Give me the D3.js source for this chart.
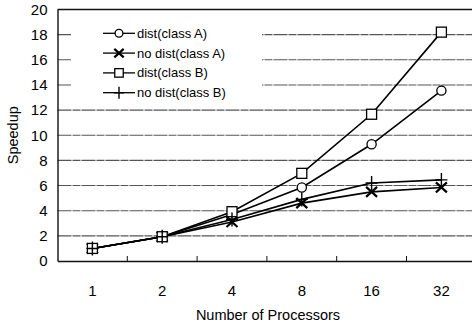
<!DOCTYPE html>
<html><head><meta charset="utf-8">
<script src="https://cdn.jsdelivr.net/npm/d3@7"></script>
<style>body{margin:0;background:#fff;}svg{display:block;font-family:"Liberation Sans",Arial,sans-serif;}</style>
</head><body>
<svg id="c" width="472" height="323"></svg>
<script>
const processors = ["1","2","4","8","16","32"];
const yTicks = [0,2,4,6,8,10,12,14,16,18,20];
const distA   = [1, 1.93, 3.7, 5.85, 9.28, 13.55];
const noDistA = [1, 1.93, 3.1, 4.6, 5.5, 5.85];
const distB   = [1, 1.93, 3.92, 6.97, 11.67, 18.2];
const noDistB = [1, 1.93, 3.3, 4.9, 6.2, 6.45];
const seriesNames = ["dist(class A)","no dist(class A)","dist(class B)","no dist(class B)"];
const seriesValues = [distA, noDistA, distB, noDistB];
const seriesMarkers = ["circle","x","square","plus"];

const svg = d3.select("#c");
const L=57.5, R=476.3, T=9.5, B=261;
const x = d3.scaleBand().domain(processors).range([L,R]);
const y = d3.scaleLinear().domain([0,20]).range([B,T]);

// gridlines
svg.append("g").selectAll("line").data(yTicks.filter(d=>d>0&&d<20)).join("line")
  .attr("x1",L).attr("x2",R).attr("y1",d=>y(d)).attr("y2",d=>y(d))
  .attr("stroke","#555").attr("stroke-width",1.1).attr("stroke-dasharray","14,1,8,1");
// top border
svg.append("line").attr("x1",L).attr("x2",R).attr("y1",y(20)).attr("y2",y(20)).attr("stroke","#111").attr("stroke-width",1.3);

// axes
const yAxis = d3.axisLeft(y).tickValues(yTicks).tickSize(0).tickPadding(10).tickFormat(d3.format("d"));
const gy = svg.append("g").attr("transform",`translate(${L},0)`).call(yAxis);
gy.select(".domain").attr("stroke","#111").attr("stroke-width",1.4);
gy.selectAll("text").attr("font-size",15).attr("fill","#000");

const xAxis = d3.axisBottom(x).tickSize(0).tickPadding(24);
const gx = svg.append("g").attr("transform",`translate(0,${B})`).call(xAxis);
gx.select(".domain").attr("stroke","#111").attr("stroke-width",1.4);
gx.selectAll("text").attr("font-size",15).attr("fill","#000");
// inner boundary ticks
svg.append("g").selectAll("line").data(processors.slice(1)).join("line")
  .attr("x1",d=>x(d)).attr("x2",d=>x(d)).attr("y1",B).attr("y2",B-5)
  .attr("stroke","#111").attr("stroke-width",1);

// titles
svg.append("text").attr("x",268).attr("y",320).attr("text-anchor","middle").attr("font-size",14.5).text("Number of Processors");
svg.append("text").attr("transform",`translate(18,${y(10)}) rotate(-90)`).attr("text-anchor","middle").attr("font-size",14.5).text("Speedup");

// legend background
const lg = svg.append("g");
lg.append("rect").attr("x",71).attr("y",19).attr("width",191).attr("height",84).attr("fill","#fff");

function marker(g, type, cx, cy, scale){
  const s = scale||1;
  if(type==="circle") g.append("circle").attr("cx",cx).attr("cy",cy).attr("r",4.6*s).attr("fill","#fff").attr("stroke","#000").attr("stroke-width",1.3);
  else if(type==="square") g.append("rect").attr("x",cx-5*s).attr("y",cy-5*s).attr("width",10*s).attr("height",10*s).attr("fill","#fff").attr("stroke","#000").attr("stroke-width",1.3);
  else if(type==="x") g.append("path").attr("d",`M${cx-5.5*s},${cy-5*s}L${cx+5.5*s},${cy+5*s}M${cx+5.5*s},${cy-5*s}L${cx-5.5*s},${cy+5*s}`).attr("stroke","#000").attr("stroke-width",2.2).attr("fill","none");
  else if(type==="plus") g.append("path").attr("d",`M${cx},${cy-7*s}L${cx},${cy+7*s}M${cx-6*s},${cy}L${cx+6*s},${cy}`).attr("stroke","#000").attr("stroke-width",1.4).attr("fill","none");
}

// series lines
const line = d3.line().x((d,i)=>x(processors[i])+x.bandwidth()/2).y(d=>y(d));
const gs = svg.append("g");
seriesValues.forEach(vals=>{
  gs.append("path").attr("d",line(vals)).attr("fill","none").attr("stroke","#000").attr("stroke-width",1.6);
});
seriesValues.forEach((vals,si)=>{
  vals.forEach((v,i)=>marker(gs, seriesMarkers[si], x(processors[i])+x.bandwidth()/2, y(v), si===0&&i<2?0.7:1));
});

// legend entries
seriesNames.forEach((n,i)=>{
  const cy = 33.3 + i*19.8;
  lg.append("line").attr("x1",103).attr("x2",135).attr("y1",cy).attr("y2",cy).attr("stroke","#000").attr("stroke-width",1.3);
  marker(lg, seriesMarkers[i], 119, cy, 0.85);
  lg.append("text").attr("x",137).attr("y",cy+4.5).attr("font-size",13).text(n);
});
</script>
</body></html>
